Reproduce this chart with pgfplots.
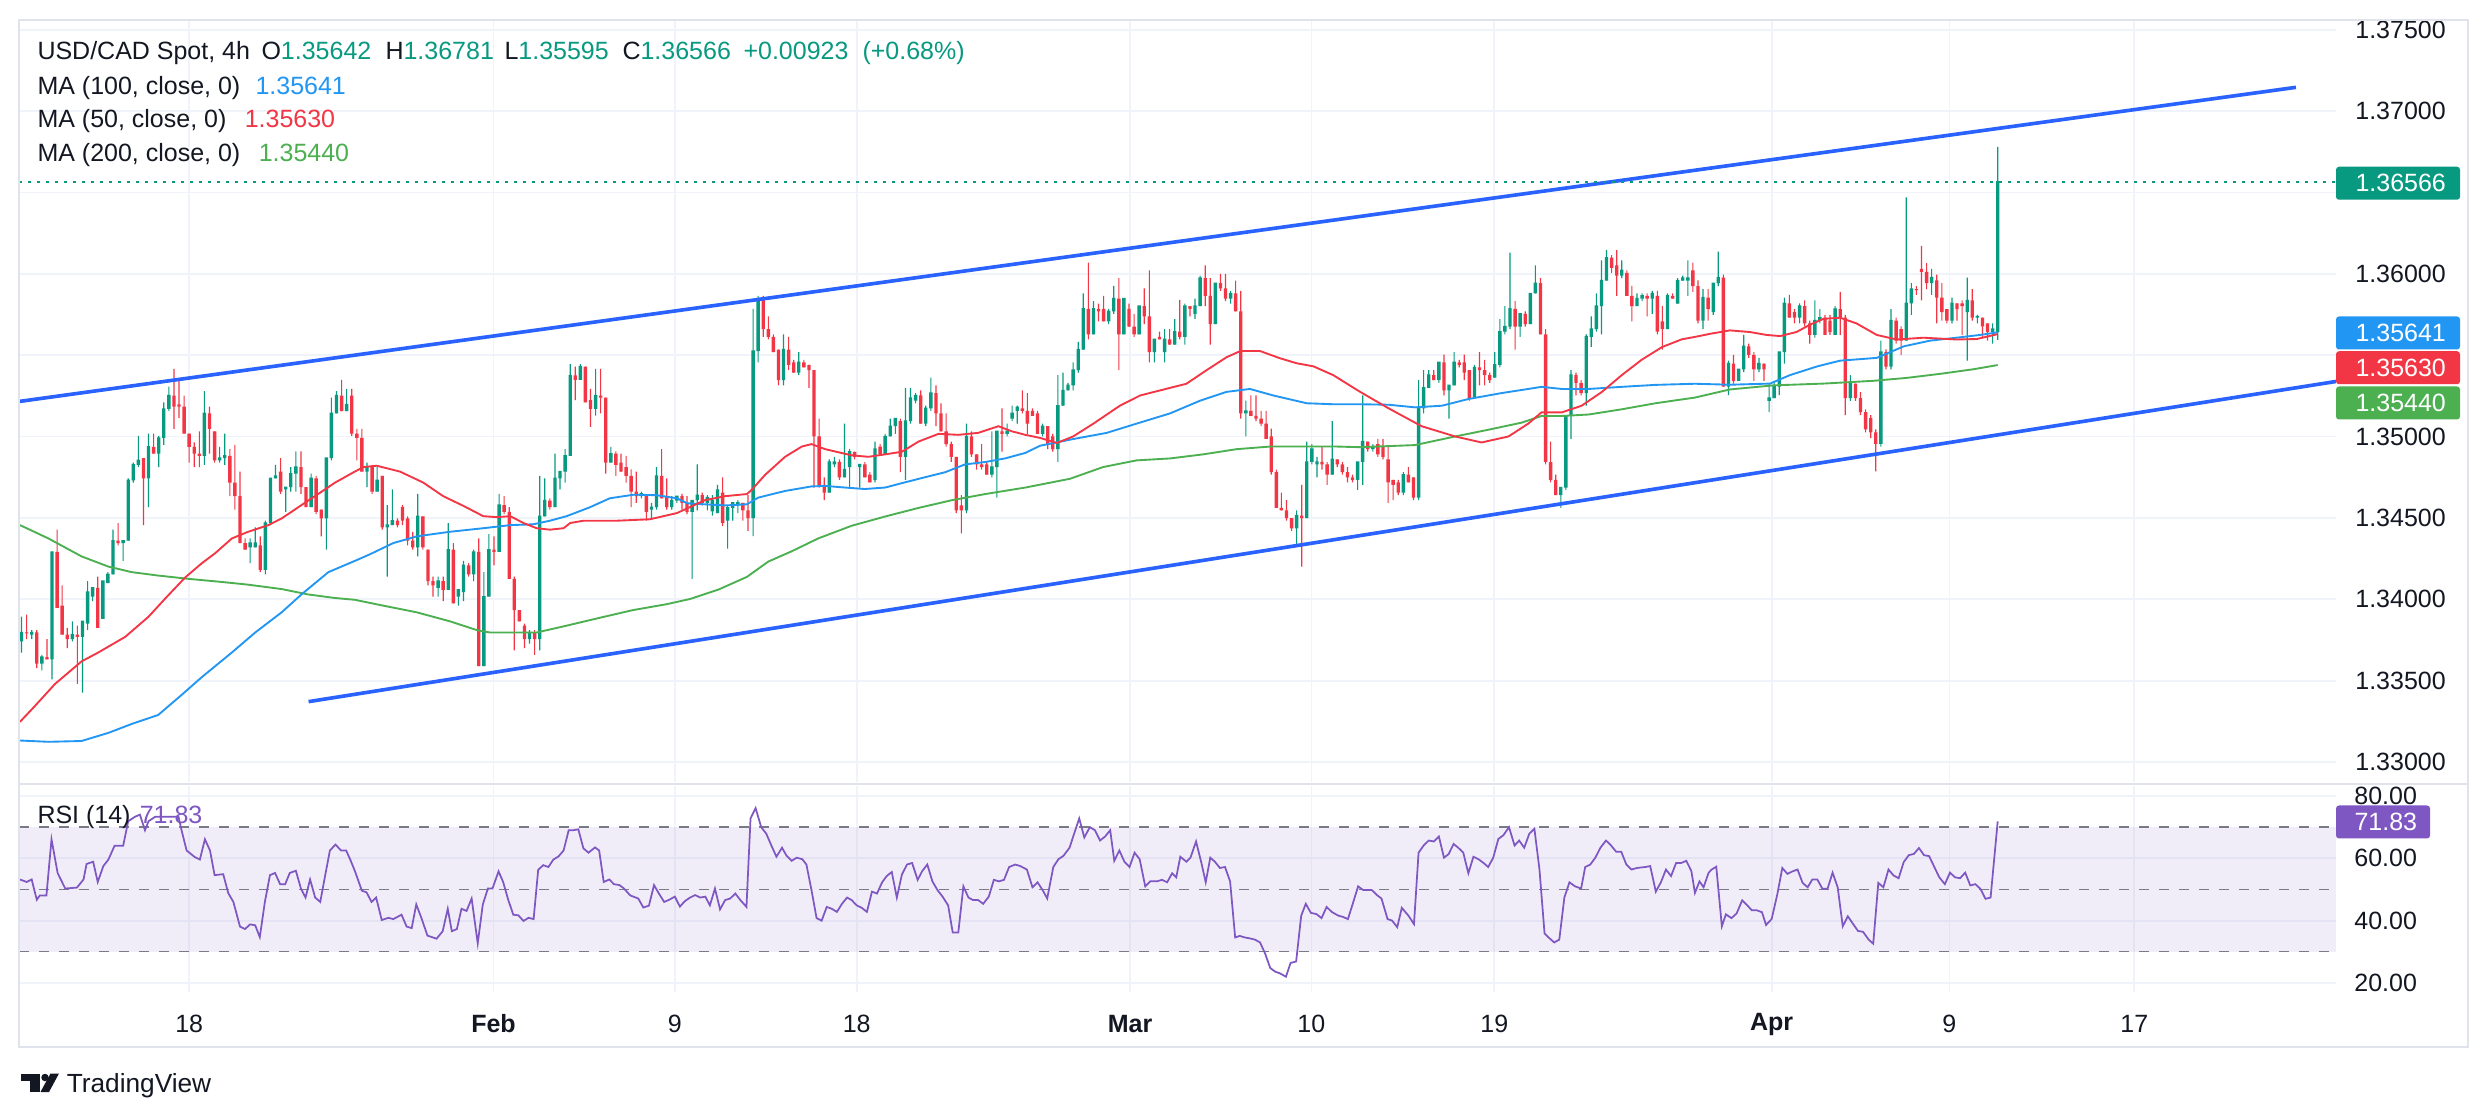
\documentclass[border=0pt]{standalone}
\usepackage{fontspec}
\setmainfont{Liberation Sans}
\usepackage{pgfplots}
\usepackage{pgfplotstable}
\pgfplotsset{compat=1.18}
\definecolor{upc}{HTML}{089981}
\definecolor{dnc}{HTML}{F23645}
\definecolor{mablue}{HTML}{2196F3}
\definecolor{mared}{HTML}{F23645}
\definecolor{magreen}{HTML}{4CAF50}
\definecolor{chan}{HTML}{2962FF}
\definecolor{rsic}{HTML}{7E57C2}
\definecolor{gridc}{HTML}{F0F3FA}
\definecolor{framec}{HTML}{E0E3EB}
\definecolor{txt}{HTML}{131722}
\definecolor{dashc}{HTML}{787B86}
\newcommand\tf{\fontsize{10pt}{12pt}\selectfont}
\pgfplotsset{pricepane/.style={at={(7.6pt,134.4pt)}, anchor=south west, scale only axis,
  width=926.8pt, height=304.8pt, xmin=0, xmax=456.1, ymin=1.32877, ymax=1.37561}}

\pgfplotstableread{
x o h l c
0 1.33741 1.33893 1.33673 1.33796
1 1.33796 1.33906 1.33755 1.33790
2 1.33783 1.33810 1.33755 1.33796
3 1.33796 1.33810 1.33577 1.33604
4 1.33604 1.33659 1.33563 1.33645
5 1.33645 1.33755 1.33631 1.33631
6 1.33631 1.34291 1.33508 1.34291
7 1.34291 1.34428 1.33947 1.33947
8 1.33961 1.34085 1.33783 1.33783
9 1.33783 1.33824 1.33700 1.33755
10 1.33755 1.33865 1.33741 1.33783
11 1.33783 1.33838 1.33480 1.33769
12 1.33769 1.33865 1.33426 1.33865
13 1.33851 1.34112 1.33810 1.34044
14 1.34016 1.34071 1.33989 1.34071
15 1.34071 1.34140 1.33824 1.33824
16 1.33879 1.34112 1.33879 1.34112
17 1.34099 1.34167 1.34099 1.34154
18 1.34154 1.34428 1.34154 1.34360
19 1.34360 1.34469 1.34332 1.34346
20 1.34346 1.34360 1.34236 1.34360
21 1.34360 1.34744 1.34360 1.34731
22 1.34731 1.34840 1.34717 1.34827
23 1.34827 1.35005 1.34813 1.34854
24 1.34868 1.34868 1.34456 1.34744
25 1.34744 1.35019 1.34566 1.34937
26 1.34937 1.35019 1.34895 1.34895
27 1.34895 1.35005 1.34813 1.34992
28 1.34992 1.35211 1.34950 1.35170
29 1.35170 1.35308 1.35156 1.35252
30 1.35252 1.35417 1.35047 1.35184
31 1.35198 1.35349 1.35115 1.35184
32 1.35184 1.35252 1.35019 1.35019
33 1.35019 1.35019 1.34840 1.34937
34 1.34937 1.34964 1.34813 1.34895
35 1.34895 1.35033 1.34813 1.34882
36 1.34882 1.35280 1.34827 1.35143
37 1.35143 1.35184 1.34895 1.35047
38 1.35033 1.35033 1.34840 1.34854
39 1.34854 1.34937 1.34840 1.34868
40 1.34868 1.35019 1.34827 1.34882
41 1.34882 1.34923 1.34634 1.34717
42 1.34717 1.34950 1.34552 1.34634
43 1.34634 1.34785 1.34346 1.34346
44 1.34346 1.34374 1.34305 1.34305
45 1.34319 1.34374 1.34222 1.34346
46 1.34319 1.34442 1.34319 1.34346
47 1.34332 1.34387 1.34167 1.34181
48 1.34181 1.34483 1.34154 1.34469
49 1.34469 1.34744 1.34456 1.34744
50 1.34744 1.34827 1.34744 1.34758
51 1.34785 1.34868 1.34648 1.34662
52 1.34675 1.34689 1.34538 1.34689
53 1.34689 1.34813 1.34662 1.34772
54 1.34772 1.34909 1.34662 1.34813
55 1.34813 1.34909 1.34648 1.34689
56 1.34689 1.34689 1.34566 1.34566
57 1.34566 1.34772 1.34566 1.34744
58 1.34744 1.34758 1.34524 1.34538
59 1.34552 1.34552 1.34387 1.34497
60 1.34497 1.34868 1.34305 1.34868
61 1.34868 1.35239 1.34854 1.35143
62 1.35143 1.35280 1.35143 1.35252
63 1.35252 1.35349 1.35156 1.35156
64 1.35156 1.35294 1.35156 1.35198
65 1.35252 1.35294 1.35005 1.35019
66 1.35019 1.35047 1.34854 1.34992
67 1.34992 1.35047 1.34785 1.34785
68 1.34785 1.34840 1.34689 1.34813
69 1.34813 1.34827 1.34648 1.34662
70 1.34662 1.34813 1.34662 1.34731
71 1.34758 1.34758 1.34428 1.34442
72 1.34442 1.34579 1.34140 1.34456
73 1.34456 1.34675 1.34456 1.34483
74 1.34483 1.34497 1.34442 1.34456
75 1.34566 1.34579 1.34456 1.34483
76 1.34497 1.34510 1.34332 1.34360
77 1.34360 1.34414 1.34305 1.34319
78 1.34319 1.34648 1.34264 1.34510
79 1.34510 1.34510 1.34305 1.34319
80 1.34305 1.34305 1.34085 1.34112
81 1.34112 1.34140 1.34016 1.34085
82 1.34071 1.34140 1.34016 1.34112
83 1.34112 1.34140 1.33989 1.34058
84 1.34058 1.34469 1.34058 1.34305
85 1.34305 1.34346 1.33975 1.33975
86 1.34016 1.34058 1.33961 1.34058
87 1.34044 1.34236 1.33989 1.34209
88 1.34209 1.34222 1.34140 1.34154
89 1.34154 1.34305 1.34112 1.34291
90 1.34291 1.34374 1.33590 1.33590
91 1.33590 1.34167 1.33590 1.34016
92 1.34016 1.34401 1.34016 1.34305
93 1.34305 1.34387 1.34209 1.34291
94 1.34291 1.34648 1.34291 1.34579
95 1.34579 1.34634 1.34524 1.34538
96 1.34538 1.34566 1.34126 1.34126
97 1.34126 1.34140 1.33686 1.33934
98 1.33934 1.33934 1.33865 1.33865
99 1.33838 1.33851 1.33700 1.33755
100 1.33755 1.33810 1.33728 1.33796
101 1.33796 1.33810 1.33659 1.33755
102 1.33755 1.34758 1.33686 1.34510
103 1.34510 1.34744 1.34510 1.34607
104 1.34607 1.34621 1.34552 1.34566
105 1.34566 1.34895 1.34566 1.34744
106 1.34744 1.34785 1.34675 1.34785
107 1.34785 1.34923 1.34717 1.34882
108 1.34882 1.35445 1.34882 1.35376
109 1.35376 1.35431 1.35225 1.35349
110 1.35349 1.35445 1.35349 1.35431
111 1.35431 1.35431 1.35211 1.35211
112 1.35225 1.35294 1.35060 1.35170
113 1.35170 1.35417 1.35129 1.35252
114 1.35252 1.35417 1.35143 1.35239
115 1.35239 1.35239 1.34772 1.34840
116 1.34840 1.34937 1.34840 1.34895
117 1.34895 1.34909 1.34758 1.34827
118 1.34840 1.34895 1.34785 1.34785
119 1.34813 1.34882 1.34717 1.34758
120 1.34758 1.34799 1.34566 1.34662
121 1.34662 1.34785 1.34593 1.34634
122 1.34634 1.34662 1.34621 1.34648
123 1.34634 1.34634 1.34483 1.34538
124 1.34552 1.34593 1.34497 1.34566
125 1.34566 1.34813 1.34552 1.34758
126 1.34758 1.34923 1.34621 1.34621
127 1.34634 1.34744 1.34552 1.34566
128 1.34566 1.34634 1.34552 1.34607
129 1.34607 1.34634 1.34593 1.34634
130 1.34634 1.34648 1.34552 1.34593
131 1.34593 1.34634 1.34524 1.34538
132 1.34538 1.34607 1.34126 1.34607
133 1.34609 1.34829 1.34546 1.34640
134 1.34640 1.34656 1.34577 1.34593
135 1.34593 1.34640 1.34546 1.34625
136 1.34540 1.34640 1.34515 1.34609
137 1.34530 1.34703 1.34530 1.34672
138 1.34656 1.34750 1.34452 1.34468
139 1.34483 1.34577 1.34311 1.34562
140 1.34562 1.34593 1.34483 1.34593
141 1.34577 1.34609 1.34530 1.34593
142 1.34593 1.34593 1.34483 1.34546
143 1.34546 1.34640 1.34421 1.34499
144 1.34499 1.35786 1.34389 1.35526
145 1.35526 1.35865 1.35457 1.35849
146 1.35849 1.35865 1.35613 1.35661
147 1.35661 1.35739 1.35598 1.35613
148 1.35613 1.35629 1.35519 1.35519
149 1.35535 1.35535 1.35315 1.35347
150 1.35347 1.35629 1.35315 1.35535
151 1.35535 1.35613 1.35409 1.35441
152 1.35457 1.35472 1.35394 1.35394
153 1.35394 1.35519 1.35378 1.35457
154 1.35457 1.35472 1.35425 1.35425
155 1.35441 1.35441 1.35300 1.35409
156 1.35409 1.35409 1.34687 1.35001
157 1.35001 1.35111 1.34687 1.34703
158 1.34703 1.34750 1.34609 1.34656
159 1.34656 1.34860 1.34656 1.34844
160 1.34829 1.34876 1.34813 1.34844
161 1.34844 1.34860 1.34734 1.34750
162 1.34750 1.35080 1.34750 1.34797
163 1.34813 1.34923 1.34687 1.34907
164 1.34907 1.34907 1.34860 1.34876
165 1.34813 1.34829 1.34687 1.34829
166 1.34829 1.34844 1.34750 1.34750
167 1.34766 1.34781 1.34719 1.34719
168 1.34734 1.34970 1.34719 1.34923
169 1.34939 1.34954 1.34891 1.34891
170 1.34891 1.35017 1.34891 1.35001
171 1.35001 1.35111 1.35001 1.35064
172 1.35064 1.35111 1.35017 1.35111
173 1.35096 1.35111 1.34781 1.34876
174 1.34876 1.35300 1.34734 1.35096
175 1.35096 1.35300 1.35080 1.35237
176 1.35221 1.35268 1.35205 1.35253
177 1.35253 1.35284 1.35080 1.35080
178 1.35080 1.35190 1.35064 1.35174
179 1.35174 1.35362 1.35158 1.35268
180 1.35268 1.35315 1.35064 1.35143
181 1.35143 1.35205 1.35033 1.35033
182 1.35033 1.35143 1.34939 1.34954
183 1.34954 1.34970 1.34844 1.34876
184 1.34876 1.34876 1.34530 1.34546
185 1.34577 1.34640 1.34405 1.34546
186 1.34546 1.35080 1.34530 1.35001
187 1.35001 1.35033 1.34876 1.34891
188 1.34891 1.34891 1.34797 1.34829
189 1.34829 1.34954 1.34797 1.34813
190 1.34829 1.34844 1.34766 1.34766
191 1.34766 1.35033 1.34750 1.34813
192 1.34813 1.35033 1.34625 1.35033
193 1.35033 1.35174 1.34907 1.35017
194 1.35017 1.35080 1.35001 1.35033
195 1.35111 1.35190 1.35096 1.35143
196 1.35158 1.35190 1.35080 1.35180
197 1.35174 1.35284 1.35143 1.35158
198 1.35158 1.35268 1.35017 1.35080
199 1.35158 1.35174 1.35127 1.35127
200 1.35143 1.35158 1.35017 1.35017
201 1.35017 1.35080 1.35001 1.35064
202 1.35064 1.35064 1.34923 1.34954
203 1.35001 1.35017 1.34907 1.34923
204 1.34923 1.35378 1.34844 1.35190
205 1.35190 1.35394 1.35190 1.35284
206 1.35284 1.35331 1.35284 1.35315
207 1.35315 1.35457 1.35284 1.35409
208 1.35409 1.35582 1.35394 1.35535
209 1.35535 1.35880 1.35535 1.35786
210 1.35786 1.36069 1.35598 1.35629
211 1.35629 1.35833 1.35629 1.35786
212 1.35786 1.35817 1.35708 1.35770
213 1.35786 1.35865 1.35708 1.35708
214 1.35708 1.35786 1.35692 1.35770
215 1.35770 1.35927 1.35755 1.35849
216 1.35849 1.35975 1.35409 1.35629
217 1.35629 1.35849 1.35629 1.35849
218 1.35786 1.35817 1.35676 1.35676
219 1.35676 1.35755 1.35613 1.35629
220 1.35629 1.35802 1.35629 1.35802
221 1.35802 1.35912 1.35692 1.35739
222 1.35739 1.36022 1.35457 1.35519
223 1.35519 1.35598 1.35457 1.35598
224 1.35613 1.35645 1.35598 1.35598
225 1.35519 1.35661 1.35457 1.35598
226 1.35598 1.35661 1.35566 1.35566
227 1.35566 1.35723 1.35566 1.35645
228 1.35645 1.35840 1.35598 1.35613
229 1.35613 1.35817 1.35566 1.35802
230 1.35802 1.35802 1.35739 1.35786
231 1.35755 1.35849 1.35723 1.35802
232 1.35802 1.35990 1.35802 1.35975
233 1.35975 1.36053 1.35802 1.35865
234 1.35865 1.35975 1.35566 1.35692
235 1.35692 1.35943 1.35692 1.35943
236 1.35943 1.36000 1.35896 1.35912
237 1.35912 1.36000 1.35833 1.35849
238 1.35849 1.35896 1.35818 1.35880
239 1.35880 1.35959 1.35770 1.35770
240 1.35770 1.35896 1.35111 1.35143
241 1.35143 1.35221 1.35001 1.35158
242 1.35158 1.35253 1.35127 1.35127
243 1.35127 1.35253 1.35096 1.35111
244 1.35111 1.35158 1.35064 1.35080
245 1.35080 1.35158 1.34986 1.34986
246 1.35001 1.35049 1.34766 1.34781
247 1.34781 1.34797 1.34562 1.34562
248 1.34562 1.34656 1.34546 1.34546
249 1.34546 1.34609 1.34483 1.34499
250 1.34499 1.34499 1.34421 1.34436
251 1.34436 1.34546 1.34327 1.34515
252 1.34515 1.34703 1.34201 1.34499
253 1.34499 1.34970 1.34499 1.34844
254 1.34844 1.34954 1.34829 1.34923
255 1.34829 1.34876 1.34750 1.34844
256 1.34844 1.34939 1.34797 1.34829
257 1.34829 1.34844 1.34703 1.34766
258 1.34766 1.35096 1.34766 1.34860
259 1.34860 1.34860 1.34813 1.34829
260 1.34829 1.34844 1.34766 1.34781
261 1.34781 1.34813 1.34719 1.34750
262 1.34750 1.34766 1.34719 1.34734
263 1.34734 1.34844 1.34672 1.34844
264 1.34844 1.35253 1.34703 1.34970
265 1.34970 1.34970 1.34907 1.34923
266 1.34923 1.34954 1.34907 1.34939
267 1.34954 1.34986 1.34876 1.34891
268 1.34939 1.34986 1.34860 1.34876
269 1.34860 1.34939 1.34593 1.34719
270 1.34734 1.34734 1.34609 1.34703
271 1.34719 1.34734 1.34640 1.34656
272 1.34656 1.34781 1.34640 1.34766
273 1.34766 1.34813 1.34719 1.34719
274 1.34750 1.34750 1.34609 1.34625
275 1.34625 1.35347 1.34609 1.35174
276 1.35174 1.35409 1.35143 1.35300
277 1.35300 1.35409 1.35300 1.35378
278 1.35378 1.35409 1.35347 1.35347
279 1.35347 1.35457 1.35331 1.35457
280 1.35457 1.35504 1.35253 1.35284
281 1.35284 1.35315 1.35111 1.35315
282 1.35315 1.35519 1.35315 1.35457
283 1.35457 1.35472 1.35425 1.35441
284 1.35457 1.35504 1.35347 1.35394
285 1.35409 1.35409 1.35221 1.35237
286 1.35237 1.35441 1.35237 1.35425
287 1.35425 1.35519 1.35315 1.35409
288 1.35409 1.35472 1.35315 1.35378
289 1.35378 1.35394 1.35331 1.35347
290 1.35362 1.35519 1.35362 1.35441
291 1.35441 1.35723 1.35425 1.35645
292 1.35645 1.35802 1.35629 1.35676
293 1.35676 1.36131 1.35661 1.35786
294 1.35786 1.35833 1.35535 1.35676
295 1.35676 1.35755 1.35613 1.35755
296 1.35755 1.35770 1.35676 1.35692
297 1.35692 1.35880 1.35692 1.35880
298 1.35880 1.36053 1.35880 1.35943
299 1.35943 1.35975 1.35629 1.35629
300 1.35629 1.35661 1.34829 1.34844
301 1.34844 1.34970 1.34719 1.34734
302 1.34734 1.34766 1.34640 1.34640
303 1.34640 1.34687 1.34562 1.34687
304 1.34687 1.35127 1.34672 1.35127
305 1.35127 1.35409 1.34986 1.35378
306 1.35378 1.35394 1.35253 1.35331
307 1.35331 1.35347 1.35253 1.35268
308 1.35268 1.35629 1.35190 1.35613
309 1.35613 1.35739 1.35551 1.35661
310 1.35661 1.35880 1.35645 1.35802
311 1.35802 1.36084 1.35629 1.35959
312 1.35959 1.36147 1.35959 1.36100
313 1.36100 1.36116 1.36006 1.36037
314 1.36053 1.36147 1.35865 1.35990
315 1.35990 1.36084 1.35975 1.36022
316 1.36006 1.36022 1.35865 1.35865
317 1.35865 1.35927 1.35708 1.35802
318 1.35802 1.35880 1.35802 1.35849
319 1.35849 1.35880 1.35833 1.35865
320 1.35865 1.35880 1.35739 1.35849
321 1.35849 1.35896 1.35755 1.35880
322 1.35865 1.35896 1.35629 1.35645
323 1.35708 1.35802 1.35535 1.35661
324 1.35661 1.35880 1.35661 1.35865
325 1.35865 1.35880 1.35849 1.35849
326 1.35818 1.35975 1.35818 1.35959
327 1.35959 1.35990 1.35959 1.35975
328 1.35959 1.36084 1.35865 1.35975
329 1.36022 1.36069 1.35890 1.35925
330 1.35925 1.35960 1.35696 1.35713
331 1.35713 1.35907 1.35661 1.35855
332 1.35855 1.35907 1.35713 1.35784
333 1.35766 1.35943 1.35749 1.35943
334 1.35943 1.36137 1.35925 1.35978
335 1.35978 1.35996 1.35308 1.35308
336 1.35308 1.35467 1.35255 1.35449
337 1.35449 1.35502 1.35326 1.35343
338 1.35343 1.35414 1.35343 1.35414
339 1.35414 1.35625 1.35396 1.35555
340 1.35555 1.35572 1.35484 1.35502
341 1.35502 1.35520 1.35343 1.35414
342 1.35414 1.35484 1.35396 1.35449
343 1.35449 1.35449 1.35343 1.35414
344 1.35220 1.35326 1.35150 1.35237
345 1.35237 1.35343 1.35237 1.35308
346 1.35308 1.35520 1.35255 1.35520
347 1.35520 1.35855 1.35449 1.35819
348 1.35819 1.35872 1.35731 1.35731
349 1.35766 1.35784 1.35696 1.35731
350 1.35731 1.35819 1.35696 1.35802
351 1.35802 1.35837 1.35678 1.35696
352 1.35696 1.35713 1.35572 1.35625
353 1.35625 1.35837 1.35608 1.35713
354 1.35713 1.35784 1.35696 1.35731
355 1.35731 1.35749 1.35625 1.35625
356 1.35713 1.35749 1.35625 1.35643
357 1.35625 1.35802 1.35625 1.35784
358 1.35784 1.35890 1.35625 1.35731
359 1.35731 1.35749 1.35132 1.35237
360 1.35237 1.35378 1.35220 1.35326
361 1.35326 1.35326 1.35220 1.35237
362 1.35237 1.35273 1.35132 1.35150
363 1.35150 1.35167 1.35026 1.35044
364 1.35114 1.35132 1.34991 1.35026
365 1.35026 1.35044 1.34786 1.34955
366 1.34955 1.35590 1.34938 1.35520
367 1.35520 1.35537 1.35414 1.35431
368 1.35431 1.35784 1.35414 1.35713
369 1.35713 1.35731 1.35572 1.35590
370 1.35661 1.35678 1.35502 1.35590
371 1.35590 1.36471 1.35590 1.35819
372 1.35819 1.35943 1.35749 1.35907
373 1.35907 1.35925 1.35872 1.35900
374 1.36031 1.36172 1.35837 1.36013
375 1.36013 1.36066 1.35907 1.35943
376 1.35943 1.36031 1.35872 1.35978
377 1.35960 1.35996 1.35696 1.35855
378 1.35855 1.35943 1.35713 1.35766
379 1.35784 1.35784 1.35696 1.35713
380 1.35713 1.35855 1.35696 1.35819
381 1.35819 1.35819 1.35713 1.35784
382 1.35819 1.35837 1.35625 1.35802
383 1.35766 1.35978 1.35467 1.35837
384 1.35837 1.35907 1.35713 1.35731
385 1.35731 1.35749 1.35696 1.35738
386 1.35731 1.35731 1.35608 1.35678
387 1.35696 1.35696 1.35590 1.35643
388 1.35643 1.35696 1.35572 1.35661
389 1.35642 1.36781 1.35595 1.36566
}\candles

\pgfplotstableread{
x v
0.2 1.33247
3.1 1.33343
7.1 1.33480
12.3 1.33618
15.6 1.33673
20.9 1.33769
25.5 1.33893
28.7 1.34002
32.7 1.34134
36.0 1.34222
38.6 1.34283
41.9 1.34374
45.1 1.34415
49.1 1.34456
51.7 1.34497
55.6 1.34579
59.6 1.34662
62.2 1.34717
66.1 1.34785
67.8 1.34813
70.4 1.34821
75.0 1.34785
79.6 1.34717
83.5 1.34634
87.5 1.34574
91.4 1.34511
94.0 1.34505
96.7 1.34511
99.3 1.34469
101.9 1.34437
104.5 1.34428
107.2 1.34437
108.5 1.34469
111.1 1.34483
117.6 1.34483
124.2 1.34492
129.5 1.34530
131.6 1.34560
135.0 1.34609
139.0 1.34634
143.3 1.34647
144.2 1.34672
146.9 1.34766
150.8 1.34876
154.1 1.34939
156.0 1.34954
158.7 1.34923
163.9 1.34885
167.2 1.34876
170.5 1.34891
173.8 1.34907
177.1 1.34970
181.0 1.35017
184.9 1.35011
188.8 1.35023
192.8 1.35064
195.4 1.35033
198.1 1.35011
201.0 1.34992
204.3 1.34961
207.5 1.35001
211.5 1.35080
216.7 1.35190
220.7 1.35253
224.6 1.35284
229.8 1.35325
233.8 1.35409
237.7 1.35488
240.4 1.35526
244.3 1.35526
248.2 1.35482
251.5 1.35451
254.8 1.35432
258.7 1.35378
264.0 1.35275
269.6 1.35174
276.1 1.35064
282.7 1.35001
287.9 1.34964
293.2 1.35001
297.1 1.35080
299.7 1.35149
303.7 1.35149
307.6 1.35190
311.6 1.35275
315.5 1.35378
319.4 1.35472
323.4 1.35550
327.3 1.35598
329.9 1.35613
332.9 1.35632
336.8 1.35653
340.7 1.35643
344.0 1.35625
346.7 1.35618
349.9 1.35643
352.6 1.35689
355.2 1.35724
358.5 1.35731
361.7 1.35696
365.7 1.35625
369.6 1.35597
374.9 1.35608
381.4 1.35597
385.4 1.35600
389.5 1.35630
}\maFifty

\pgfplotstableread{
x v
0.2 1.33132
5.8 1.33124
12.3 1.33129
17.6 1.33179
22.2 1.33234
27.4 1.33289
32.0 1.33412
36.0 1.33522
41.9 1.33673
46.5 1.33796
51.7 1.33920
55.6 1.34030
60.9 1.34167
66.1 1.34236
69.1 1.34277
73.7 1.34346
78.3 1.34387
84.8 1.34415
91.4 1.34437
96.7 1.34456
101.2 1.34461
104.5 1.34483
107.8 1.34511
112.4 1.34566
116.3 1.34621
121.0 1.34643
125.5 1.34640
129.5 1.34621
131.6 1.34590
135.0 1.34584
139.0 1.34577
143.3 1.34584
145.5 1.34625
150.8 1.34666
156.0 1.34694
158.7 1.34697
162.6 1.34687
166.5 1.34678
170.5 1.34687
174.4 1.34719
178.3 1.34750
182.3 1.34781
186.2 1.34829
190.2 1.34844
194.1 1.34866
198.1 1.34900
201.0 1.34944
207.5 1.34985
214.1 1.35023
220.0 1.35080
226.6 1.35143
232.5 1.35221
237.7 1.35275
242.3 1.35293
246.9 1.35253
253.5 1.35205
258.7 1.35199
264.0 1.35199
269.6 1.35196
274.8 1.35180
280.1 1.35190
285.3 1.35231
291.9 1.35268
297.1 1.35293
299.7 1.35306
303.7 1.35293
309.0 1.35293
315.5 1.35306
322.1 1.35318
329.9 1.35325
336.8 1.35319
344.7 1.35326
348.6 1.35378
353.9 1.35431
358.5 1.35467
365.7 1.35484
371.0 1.35555
376.2 1.35590
381.4 1.35608
386.0 1.35625
389.5 1.35641
}\maHundred

\pgfplotstableread{
x v
0.2 1.34456
5.8 1.34374
12.3 1.34264
17.6 1.34201
22.2 1.34167
27.4 1.34146
33.3 1.34126
39.8 1.34107
45.1 1.34090
51.7 1.34063
56.9 1.34030
62.2 1.34008
66.1 1.33997
71.7 1.33961
78.3 1.33920
84.8 1.33865
90.2 1.33810
92.7 1.33796
97.9 1.33796
101.9 1.33796
107.8 1.33838
114.4 1.33887
120.9 1.33934
127.5 1.33970
132.1 1.34002
137.7 1.34060
143.3 1.34138
147.5 1.34232
152.1 1.34295
157.3 1.34374
163.9 1.34452
170.5 1.34509
177.1 1.34562
183.6 1.34609
190.2 1.34647
198.1 1.34687
206.9 1.34741
213.4 1.34813
220.0 1.34854
226.6 1.34866
233.1 1.34891
239.7 1.34923
246.3 1.34939
252.8 1.34939
259.4 1.34939
264.0 1.34935
274.8 1.34948
282.7 1.35001
289.2 1.35042
295.8 1.35086
299.7 1.35127
303.7 1.35127
309.0 1.35136
315.5 1.35168
322.1 1.35205
329.9 1.35240
336.8 1.35290
345.3 1.35315
355.2 1.35326
365.0 1.35343
371.6 1.35361
378.2 1.35386
384.7 1.35414
389.5 1.35440
}\maTwoHundred

\pgfplotstableread{
x r
0.2 53.2
1.5 52.4
2.5 53.2
3.5 46.7
4.1 48.1
5.4 48.1
6.4 66.1
7.6 55.3
9.1 50.3
11.4 50.6
12.7 53.2
13.3 58.2
14.6 58.9
15.5 52.4
16.6 57.5
17.6 59.6
18.8 64.0
20.5 64.0
21.5 71.9
22.8 73.3
23.8 74.0
24.8 69.0
25.5 71.9
26.8 73.3
29.4 73.3
31.4 73.3
32.0 69.0
33.0 62.5
34.6 60.4
35.6 59.6
36.6 66.1
37.6 62.5
38.5 54.6
40.2 54.9
41.2 48.8
42.2 46.0
43.5 38.1
44.5 37.3
45.5 38.8
46.5 38.5
47.4 34.7
48.4 46.0
49.4 54.6
50.4 55.3
51.4 51.7
52.4 51.7
53.3 55.3
54.5 56.0
55.5 50.3
56.4 47.4
57.3 53.2
58.3 47.4
59.3 46.0
60.2 53.9
61.2 62.5
62.3 64.4
63.4 62.5
64.4 62.5
65.2 59.6
66.1 56.0
67.5 49.6
68.4 49.1
69.4 46.0
70.3 47.4
71.4 40.2
72.7 40.9
73.7 40.5
75.3 41.9
76.3 38.1
77.3 37.6
78.2 45.2
79.2 40.9
80.4 35.2
82.2 34.2
83.4 36.6
84.4 43.8
85.2 36.6
86.2 37.3
87.1 43.8
88.1 43.1
89.1 47.1
90.3 32.7
91.3 45.2
92.3 50.3
93.2 50.3
94.4 55.8
95.3 52.4
96.3 46.7
97.3 41.9
98.3 41.7
99.3 39.9
100.3 40.9
101.3 40.5
102.2 56.3
103.2 57.8
104.2 57.2
105.2 59.6
106.2 60.6
107.2 62.5
108.2 69.0
109.1 69.0
110.1 69.3
111.1 63.2
112.1 61.8
113.4 63.5
114.2 62.5
115.1 52.4
116.2 53.2
117.1 51.7
118.2 51.4
119.1 50.3
120.3 48.1
121.9 47.1
122.9 44.2
124.0 44.8
125.0 51.4
126.0 48.6
127.0 46.0
128.0 46.7
129.1 47.7
130.1 44.5
131.1 46.3
132.1 47.4
133.1 48.2
134.1 47.4
135.1 47.7
136.0 44.9
137.0 50.3
138.0 43.6
139.0 46.6
140.0 47.1
141.0 48.7
142.0 46.6
143.2 44.4
144.0 72.8
145.0 76.1
146.1 70.0
147.1 67.9
148.1 64.1
149.1 60.5
150.2 63.4
151.1 60.8
152.1 59.2
153.1 60.2
154.2 59.7
155.0 58.0
156.0 49.8
157.0 40.8
158.0 40.0
159.0 44.4
160.0 43.8
161.0 42.8
162.0 45.4
163.0 47.4
163.9 46.6
164.9 44.9
165.9 44.1
166.9 42.8
167.9 49.3
168.9 48.7
169.9 52.3
170.8 54.3
171.8 55.6
172.8 47.4
173.8 54.8
174.8 58.0
175.8 58.5
176.9 53.1
177.8 55.9
178.8 58.0
179.8 52.6
180.8 49.8
181.8 47.7
182.9 44.9
183.8 36.2
184.9 36.2
185.9 51.0
186.9 47.4
187.8 46.6
188.8 46.6
189.8 45.4
190.9 47.7
191.9 53.1
192.9 52.6
193.9 53.1
194.9 57.2
196.1 58.0
197.1 57.5
198.4 56.4
199.5 50.7
200.5 52.3
201.5 49.8
202.4 47.1
203.6 57.2
204.6 59.7
205.6 60.8
206.8 63.4
207.7 67.9
208.7 72.8
209.7 66.7
210.8 70.0
211.8 69.0
212.8 65.7
213.8 67.0
214.8 69.0
215.6 59.2
216.6 62.5
217.6 58.9
218.6 57.2
219.6 61.8
220.6 59.7
221.7 51.0
222.7 52.6
224.0 52.6
225.0 53.1
226.0 52.3
227.0 55.2
227.8 53.9
228.6 60.5
229.8 58.9
230.6 60.2
231.7 65.4
232.7 58.9
233.6 52.3
234.5 60.2
235.4 58.9
236.4 56.9
237.4 57.2
238.4 52.6
239.4 34.6
240.3 35.1
241.3 34.6
242.3 34.3
243.3 33.9
244.3 33.0
245.3 29.4
246.3 24.8
247.3 23.6
248.2 23.1
249.4 22.0
250.3 26.4
251.4 26.9
252.4 41.6
253.3 45.4
254.3 42.5
255.4 42.1
256.4 40.8
257.4 44.4
258.4 42.8
259.7 41.6
260.6 41.2
261.6 40.5
262.6 45.7
263.6 51.0
264.6 49.8
266.3 49.8
267.3 48.2
268.2 47.1
269.4 40.5
270.3 40.0
271.3 37.9
272.2 44.1
273.5 41.6
274.6 38.9
275.5 61.8
276.5 64.1
277.5 65.7
278.5 65.4
279.5 67.0
280.5 60.2
281.4 61.3
282.4 64.6
283.3 63.4
284.3 61.8
285.3 55.2
286.3 60.5
287.3 59.7
288.3 58.5
289.2 57.2
290.2 60.2
291.2 66.2
292.2 67.4
293.3 70.0
294.4 64.1
295.3 65.7
296.3 63.4
297.3 67.9
298.3 69.5
299.3 56.4
300.3 35.9
301.3 34.3
302.2 33.0
303.2 33.9
304.2 47.4
305.2 52.3
306.3 51.0
307.5 50.3
308.3 57.2
309.3 58.0
310.3 60.2
311.3 63.4
312.4 65.7
313.4 64.1
314.4 62.1
315.4 62.1
316.4 58.0
317.4 56.4
318.5 56.9
320.1 57.2
321.1 57.5
322.2 49.3
323.2 52.3
324.2 56.4
325.2 54.3
326.2 58.5
327.2 58.5
328.2 59.2
329.2 55.9
329.9 48.9
330.8 52.6
331.6 50.7
332.6 55.4
333.2 56.4
334.1 57.3
335.2 38.2
336.0 42.0
337.1 40.8
338.1 42.3
339.2 46.5
340.1 45.1
341.1 43.3
342.1 43.3
343.1 42.7
343.9 38.6
345.0 40.5
346.1 48.3
347.1 56.9
348.1 55.0
349.1 55.8
350.1 56.4
351.1 52.1
352.1 50.7
353.0 53.2
354.0 53.2
355.0 50.2
356.0 50.2
357.0 55.4
358.0 50.7
359.0 38.2
360.0 41.4
361.0 39.0
362.0 36.7
363.0 36.4
364.1 33.9
365.0 32.6
366.0 52.1
367.0 50.7
368.0 56.4
369.0 54.5
370.0 53.6
371.0 58.8
372.0 61.0
373.0 61.4
374.0 63.3
375.0 61.0
376.0 60.7
377.0 57.3
378.0 53.9
379.1 51.7
380.1 55.4
381.1 53.9
382.1 53.6
383.1 55.4
384.1 51.3
385.1 51.7
386.1 50.2
387.1 47.0
388.1 47.4
389.5 71.83
}\rsitable

\begin{document}
\begin{tikzpicture}[x=1pt,y=1pt]
\useasboundingbox (0,0) rectangle (995.2,447.2);
\fill[white] (0,0) rectangle (995.2,447.2);

% ---------------- price pane: grid and price scale ----------------
\begin{axis}[
  pricepane,
  axis line style={draw=none}, tick style={draw=none},
  major tick length=0pt,
  xtick={33.5,93.4,129.1,164.9,218.7,254.4,290.4,345.0,380.0,416.4},
  xticklabels={},
  ytick={1.330,1.335,1.340,1.345,1.350,1.355,1.360,1.365,1.370,1.375},
  yticklabels={1.33000,1.33500,1.34000,1.34500,1.35000,{},1.36000,{},1.37000,1.37500},
  yticklabel pos=right,
  yticklabel style={anchor=west, xshift=4.2pt, font=\tf, text=txt},
  xmajorgrids, ymajorgrids,
  grid style={gridc, line width=0.7pt},
]
\addplot[draw=none, forget plot] coordinates {(0,1.35) (456.1,1.35)};
\end{axis}

% ---------------- candle wicks ----------------
\begin{axis}[pricepane, hide axis, ybar stacked, bar width=0.45pt]
\addplot[draw=none, fill=none] table[x expr=\thisrow{x}+0.5, y=l] {\candles};
\addplot[draw=none, fill=upc] table[x expr=\thisrow{x}+0.5, y expr={ifthenelse(\thisrow{c}<\thisrow{o},0,\thisrow{h}-\thisrow{l})}] {\candles};
\addplot[draw=none, fill=dnc] table[x expr=\thisrow{x}+0.5, y expr={ifthenelse(\thisrow{c}<\thisrow{o},\thisrow{h}-\thisrow{l},0)}] {\candles};
\end{axis}

% ---------------- candle bodies ----------------
\begin{axis}[pricepane, hide axis, ybar stacked, bar width=1.35pt]
\addplot[draw=none, fill=none] table[x expr=\thisrow{x}+0.5, y expr={min(\thisrow{o},\thisrow{c})}] {\candles};
\addplot[draw=none, fill=upc] table[x expr=\thisrow{x}+0.5, y expr={ifthenelse(\thisrow{c}<\thisrow{o},0,\thisrow{c}-\thisrow{o}+0.00004)}] {\candles};
\addplot[draw=none, fill=dnc] table[x expr=\thisrow{x}+0.5, y expr={ifthenelse(\thisrow{c}<\thisrow{o},\thisrow{o}-\thisrow{c},0)}] {\candles};
\end{axis}

% ---------------- moving averages, channel, last price ----------------
\begin{axis}[pricepane, hide axis]
\addplot[magreen, line width=0.75pt, mark=none] table[x=x, y=v] {\maTwoHundred};
\addplot[mablue, line width=0.75pt, mark=none] table[x=x, y=v] {\maHundred};
\addplot[mared, line width=0.75pt, mark=none] table[x=x, y=v] {\maFifty};
\addplot[chan, line width=1.45pt, mark=none] coordinates {(0,1.35216) (448.2,1.37147)};
\addplot[chan, line width=1.45pt, mark=none] coordinates {(57.0,1.33371) (456.1,1.35339)};
\addplot[upc, line width=0.6pt, dash pattern=on 1.2pt off 2.4pt, mark=none] coordinates {(0,1.36566) (456.1,1.36566)};
\end{axis}

% ---------------- RSI pane ----------------
\begin{axis}[
  at={(7.6pt,50.4pt)}, anchor=south west, scale only axis,
  width=926.8pt, height=82.4pt,
  xmin=0, xmax=456.1, ymin=17.1, ymax=83.2,
  axis line style={draw=none}, tick style={draw=none},
  major tick length=0pt,
  xtick={33.5,93.4,129.1,164.9,218.7,254.4,290.4,345.0,380.0,416.4},
  xticklabels={18,\textbf{Feb},9,18,\textbf{Mar},10,19,\textbf{Apr},9,17},
  xticklabel style={anchor=center, yshift=-12.8pt, font=\tf, text=txt},
  ytick={20,40,60,80},
  yticklabels={20.00,40.00,60.00,80.00},
  yticklabel pos=right,
  yticklabel style={anchor=west, xshift=3.8pt, font=\tf, text=txt},
  xmajorgrids, ymajorgrids,
  grid style={gridc, line width=0.7pt},
]
\addplot[draw=none, fill=rsic, fill opacity=0.1, forget plot] coordinates {(0,30) (456.1,30) (456.1,70) (0,70)} -- cycle;
\addplot[dashc, line width=0.55pt, dash pattern=on 4pt off 4pt, mark=none] coordinates {(0,70) (456.1,70)};
\addplot[dashc, line width=0.55pt, dash pattern=on 4pt off 4pt, mark=none] coordinates {(0,50) (456.1,50)};
\addplot[dashc, line width=0.55pt, dash pattern=on 4pt off 4pt, mark=none] coordinates {(0,30) (456.1,30)};
\addplot[rsic, line width=0.7pt, mark=none] table[x=x, y=r] {\rsitable};
\end{axis}

% ---------------- frame ----------------
\draw[framec, line width=0.5pt] (7.6,28.4) rectangle (987.2,439.2);
\draw[framec, line width=1.1pt] (7.6,133.6) -- (987.2,133.6);

% ---------------- price tags ----------------
\fill[upc, rounded corners=1.2pt] (934.4,367.3) rectangle (984,380.5);
\node[anchor=west, inner sep=0, text=white, font=\tf] at (942,373.9) {1.36566};
\fill[mablue, rounded corners=1.2pt] (934.4,307.4) rectangle (984,320.6);
\node[anchor=west, inner sep=0, text=white, font=\tf] at (942,314.0) {1.35641};
\fill[mared, rounded corners=1.2pt] (934.4,293.5) rectangle (984,306.7);
\node[anchor=west, inner sep=0, text=white, font=\tf] at (942,300.1) {1.35630};
\fill[magreen, rounded corners=1.2pt] (934.4,279.4) rectangle (984,292.6);
\node[anchor=west, inner sep=0, text=white, font=\tf] at (942,286.0) {1.35440};
\fill[rsic, rounded corners=1.2pt] (934.4,111.8) rectangle (972,125.0);
\node[anchor=west, inner sep=0, text=white, font=\tf] at (941.6,118.4) {71.83};

% ---------------- legend texts ----------------
\begin{scope}[every node/.style={anchor=base west, inner sep=0, font=\tf, text=txt}]
\node at (14.8,423.2) {USD/CAD Spot, 4h};
\node at (104.4,423.2) {O\textcolor{upc}{1.35642}};
\node at (154.0,423.2) {H\textcolor{upc}{1.36781}};
\node at (201.6,423.2) {L\textcolor{upc}{1.35595}};
\node at (248.8,423.2) {C\textcolor{upc}{1.36566}};
\node at (297.2,423.2) {\textcolor{upc}{+0.00923}};
\node at (344.8,423.2) {\textcolor{upc}{(+0.68\%)}};
\node at (14.8,409.5) {MA (100, close, 0)};
\node at (102.0,409.5) {\textcolor{mablue}{1.35641}};
\node at (14.8,396.3) {MA (50, close, 0)};
\node at (97.7,396.3) {\textcolor{mared}{1.35630}};
\node at (14.8,382.5) {MA (200, close, 0)};
\node at (103.3,382.5) {\textcolor{magreen}{1.35440}};
\node at (14.8,117.9) {RSI (14)};
\node at (55.7,117.9) {\textcolor{rsic}{71.83}};
\node[font=\fontsize{10.5pt}{12pt}\selectfont] at (26.5,10.4) {TradingView};
\end{scope}

% TradingView logo mark
\fill[txt] (8.4,15.0) rectangle (15.8,17.8);
\fill[txt] (11.8,10.4) rectangle (15.8,17.8);
\fill[txt] (18.0,16.2) circle (1.5);
\fill[txt] (16.2,10.4) -- (19.6,10.4) -- (23.6,17.8) -- (20.2,17.8) -- cycle;
\end{tikzpicture}
\end{document}
